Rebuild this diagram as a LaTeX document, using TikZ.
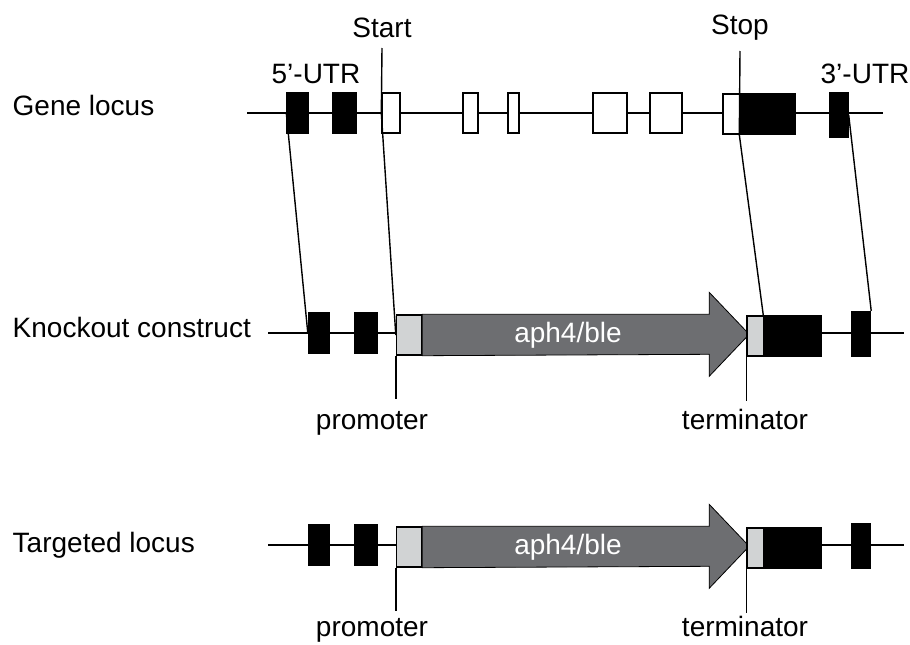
\documentclass[tikz,border=0pt]{standalone}
\usepackage{fontspec}
\setmainfont{Liberation Sans}
\usepackage{xcolor}
\usepackage{tikz}
\usetikzlibrary{positioning}
\definecolor{cassettegray}{HTML}{6D6E71}
\definecolor{partgray}{HTML}{D1D3D4}

\begin{document}
\begin{tikzpicture}[x=1pt,y=-1pt,line width=1.4pt,
  font=\fontsize{28}{32}\selectfont,
  exon/.style={draw,fill=black,inner sep=0pt,minimum height=40pt},
  cds/.style={draw,fill=white,inner sep=0pt,minimum height=40pt},
  part/.style={draw,fill=partgray,inner sep=0pt,minimum height=40pt},
  cassette/.style={draw,fill=cassettegray,line width=0.8pt},
  lbl/.style={inner sep=0pt},
  rowlbl/.style={inner sep=0pt,anchor=west}]
\useasboundingbox (0,0) rectangle (910,645);
% gene locus
\coordinate (gL) at (247,113); \coordinate (gR) at (883,113);
\draw (gL) -- (gR);
\node[exon,minimum width=21pt] (g1) at (297.5,113) {};
\node[exon,minimum width=23pt] (g2) at (344.5,113) {};
\node[cds,minimum width=18pt] (g3) at (391,113) {};
\node[cds,minimum width=15pt] (g4) at (470.5,113) {};
\node[cds,minimum width=11pt] (g5) at (513.5,113) {};
\node[cds,minimum width=34pt] (g6) at (610,113) {};
\node[cds,minimum width=32pt] (g7) at (666,113) {};
\node[cds,minimum width=17pt] (g8) at (731.5,114) {};
\node[exon,minimum width=55pt] (g9) at (767.5,114) {};
\node[exon,minimum width=18pt,minimum height=44pt] (g10) at (839,115) {};
% construct and targeted locus
\foreach \row/\y/\b in {k/333/96,t/545/91}{
  \coordinate (\row L) at (268,\y); \coordinate (\row R) at (904,\y);
  \draw (\row L) -- (\row R);
  \node[exon,minimum width=21pt] (\row1) at (319,\y) {};
  \node[exon,minimum width=22pt] (\row2) at (366,\y) {};
  \node[part,minimum width=25pt] (\row p) at (409,\y+2) {};
  \draw[cassette] (\row p.north east) -- ++(287,0) -- ++(0,-22) -- ++(40,42) coordinate (\row tip)
    -- ++(-40,42) -- ++(0,-22) -- (\row p.south east) -- cycle;
  \node[lbl,text=white] (\row gene) at (568,\y+2) {aph4/ble};
  \node[part,minimum width=17pt] (\row t) at (755.5,\y+3) {};
  \node[exon,minimum width=57pt] (\row 9) at (792.5,\y+3) {};
  \node[exon,minimum width=19pt,minimum height=45pt] (\row 10) at (861,\y+1) {};
  \draw (\row p.south west) -- ++(0,43) coordinate (\row pe);
  \draw (\row t.south west) -- ++(0,44) coordinate (\row te);
  \node[lbl,anchor=base] (\row prom) at (372,\y+\b) {promoter};
  \node[lbl,anchor=base] (\row term) at (745,\y+\b) {terminator};
}
% start / stop and homology arms
\coordinate (st) at (382,48); \coordinate (sp) at (740,51);
\draw (st) -- (g3.west) -- (kp.west);
\draw (sp) -- (g9.south west) -- (k9.north west);
\draw (g1.west) -- (k1.west);
\draw (g10.east) -- (k10.north east);
\node[lbl,above=10pt of st] (startlbl) {Start};
\node[lbl,above=10pt of sp] (stoplbl) {Stop};
\node[lbl] (utr5) at (316,74) {5’-UTR};
\node[lbl] (utr3) at (865,74) {3’-UTR};
% row names
\node[rowlbl] (genelbl) at (12,105) {Gene locus};
\node[rowlbl] (knocklbl) at (12,327) {Knockout construct};
\node[rowlbl] (targlbl) at (12,545) {Targeted locus};
\end{tikzpicture}
\end{document}
